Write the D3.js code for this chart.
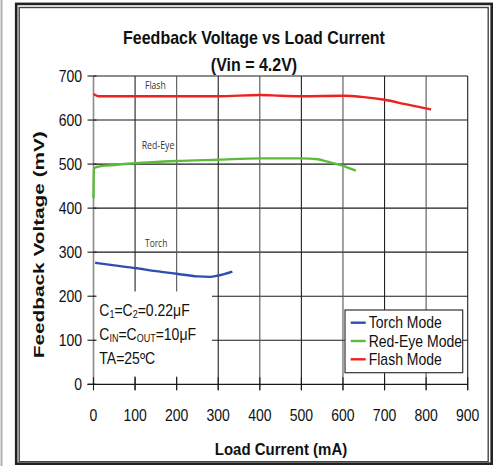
<!DOCTYPE html>
<html>
<head>
<meta charset="utf-8">
<script src="https://cdn.jsdelivr.net/npm/d3@7"></script>
<style>
  body { margin: 0; background: #fff; }
  text { font-family: "Liberation Sans", Arial, sans-serif; fill: #111; }
</style>
</head>
<body>
<div id="chart"></div>
<script>
// data
var xTicks = [0, 100, 200, 300, 400, 500, 600, 700, 800, 900];
var yTicks = [0, 100, 200, 300, 400, 500, 600, 700];

var seriesNames = ["Torch Mode", "Red-Eye Mode", "Flash Mode"];
var seriesColors = ["#2f4fae", "#5cbb3c", "#ee2020"];

var torchX = [4, 50, 100, 150, 200, 250, 280, 300, 334];
var torchY = [276, 270, 264, 257, 251, 245, 244, 247, 256];

var redEyeX = [0, 1, 10, 50, 100, 200, 300, 400, 500, 540, 560, 600, 631];
var redEyeY = [422, 490, 494, 498, 502, 507, 510, 513, 513, 511, 506, 496, 485];

var flashX = [0, 12, 100, 200, 300, 400, 450, 500, 600, 650, 700, 750, 812];
var flashY = [659, 654, 654, 654, 654, 657, 655, 654, 655, 652, 646, 636, 624];

function init(){
    var w = 497, h = 466;
    var sy = 1.15; // text in the picture is a bit tall

    var svg = d3.select("#chart").append("svg")
                .attr("width", w)
                .attr("height", h);

    // frame
    svg.append("line").attr("x1", 1.5).attr("x2", 1.5).attr("y1", 0).attr("y2", h)
       .attr("stroke", "#b0b0b0").attr("stroke-width", 2);
    svg.append("rect").attr("x", 16.2).attr("y", 3.9).attr("width", 475.5).attr("height", 459.8)
       .attr("fill", "none").attr("stroke", "#222").attr("stroke-width", 2.6);
    svg.append("rect").attr("x", 19.2).attr("y", 7.5).attr("width", 469).attr("height", 454.2)
       .attr("fill", "none").attr("stroke", "#444").attr("stroke-width", 1.4);

    var x = d3.scaleLinear().domain([0, 900]).range([93.5, 467.7]);
    var y = d3.scaleLinear().domain([0, 700]).range([384.3, 76]);

    // grid
    svg.append("g").selectAll("line.h")
       .data(yTicks.filter(function(d){ return d > 0; }))
       .enter().append("line")
       .attr("x1", x(0)).attr("x2", x(900))
       .attr("y1", function(d){ return y(d); }).attr("y2", function(d){ return y(d); })
       .attr("stroke", "#1a1a1a").attr("stroke-width", 1.1);
    svg.append("g").selectAll("line.v")
       .data(xTicks.filter(function(d){ return d > 0; }))
       .enter().append("line")
       .attr("x1", function(d){ return x(d); }).attr("x2", function(d){ return x(d); })
       .attr("y1", y(700)).attr("y2", y(0) + 6)
       .attr("stroke", function(d){ return d % 200 == 0 ? "#555" : "#222"; })
       .attr("stroke-width", 1.1);

    // white area behind the notes
    svg.append("rect").attr("x", 95).attr("y", 291.5).attr("width", 117).attr("height", 85)
       .attr("fill", "#fff");

    // axes
    svg.append("line").attr("x1", x(0)).attr("x2", x(0)).attr("y1", y(700)).attr("y2", y(0))
       .attr("stroke", "#8a8a8a").attr("stroke-width", 1.6);
    svg.append("g").selectAll("line")
       .data(yTicks).enter().append("line")
       .attr("x1", x(0) - 6).attr("x2", x(0) + 3)
       .attr("y1", function(d){ return y(d); }).attr("y2", function(d){ return y(d); })
       .attr("stroke", "#1a1a1a").attr("stroke-width", 1.1);
    svg.append("line").attr("x1", x(0) - 6).attr("x2", x(900)).attr("y1", y(0)).attr("y2", y(0))
       .attr("stroke", "#1a1a1a").attr("stroke-width", 1.3);
    svg.append("g").selectAll("line")
       .data(xTicks).enter().append("line")
       .attr("x1", function(d){ return x(d); }).attr("x2", function(d){ return x(d); })
       .attr("y1", y(0) - 7).attr("y2", y(0) + 6)
       .attr("stroke", "#1a1a1a").attr("stroke-width", 1.1);

    // tick labels
    svg.append("g").selectAll("text")
       .data(yTicks).enter().append("text")
       .attr("transform", function(d){ return "translate(82," + (y(d) + 5.5) + ") scale(1," + sy + ")"; })
       .attr("text-anchor", "end")
       .style("font-size", "14px")
       .text(function(d){ return d; });
    svg.append("g").selectAll("text")
       .data(xTicks).enter().append("text")
       .attr("transform", function(d){ return "translate(" + x(d) + ",420.5) scale(1," + sy + ")"; })
       .attr("text-anchor", "middle")
       .style("font-size", "14px")
       .text(function(d){ return d; });

    // titles
    svg.append("text")
       .attr("transform", "translate(254,43.7) scale(1," + sy + ")")
       .attr("text-anchor", "middle")
       .style("font-size", "16px").style("font-weight", "bold")
       .text("Feedback Voltage vs Load Current");
    svg.append("text")
       .attr("transform", "translate(254,70.5) scale(1," + sy + ")")
       .attr("text-anchor", "middle")
       .style("font-size", "16px").style("font-weight", "bold")
       .text("(Vin = 4.2V)");
    svg.append("text")
       .attr("transform", "translate(281,455) scale(1," + sy + ")")
       .attr("text-anchor", "middle")
       .style("font-size", "15px").style("font-weight", "bold")
       .text("Load Current (mA)");
    svg.append("text")
       .attr("transform", "translate(43.5,244.7) rotate(-90)")
       .attr("text-anchor", "middle")
       .attr("textLength", 227).attr("lengthAdjust", "spacingAndGlyphs")
       .style("font-size", "15.5px").style("font-weight", "bold")
       .text("Feedback Voltage (mV)");

    // curves
    var line = d3.line()
                 .x(function(d){ return x(d[0]); })
                 .y(function(d){ return y(d[1]); })
                 .curve(d3.curveMonotoneX);
    var series = [d3.zip(torchX, torchY), d3.zip(redEyeX, redEyeY), d3.zip(flashX, flashY)];
    svg.append("g").selectAll("path")
       .data(series).enter().append("path")
       .attr("d", line)
       .attr("fill", "none")
       .attr("stroke", function(d, i){ return seriesColors[i]; })
       .attr("stroke-width", 2.4);

    // small curve labels
    var small = [["Flash", 145, 89.3, 20.7], ["Red-Eye", 141.7, 148.7, 32.6], ["Torch", 145, 247.3, 22.3]];
    svg.append("g").selectAll("text")
       .data(small).enter().append("text")
       .attr("x", function(d){ return d[1]; }).attr("y", function(d){ return d[2]; })
       .attr("textLength", function(d){ return d[3]; }).attr("lengthAdjust", "spacingAndGlyphs")
       .style("font-family", "'Open Sans', sans-serif")
       .style("font-size", "10.5px").style("fill", "#333")
       .text(function(d){ return d[0]; });

    // notes
    var n1 = svg.append("text").attr("transform", "translate(99.3,316) scale(1," + sy + ")").style("font-size", "14px");
    n1.append("tspan").text("C");
    n1.append("tspan").attr("dy", 2).style("font-size", "9px").text("1");
    n1.append("tspan").attr("dy", -2).text("=C");
    n1.append("tspan").attr("dy", 2).style("font-size", "9px").text("2");
    n1.append("tspan").attr("dy", -2).text("=0.22\u03bcF");
    var n2 = svg.append("text").attr("transform", "translate(99.3,340) scale(1," + sy + ")").style("font-size", "14px");
    n2.append("tspan").text("C");
    n2.append("tspan").attr("dy", 2).style("font-size", "9px").text("IN");
    n2.append("tspan").attr("dy", -2).text("=C");
    n2.append("tspan").attr("dy", 2).style("font-size", "9px").text("OUT");
    n2.append("tspan").attr("dy", -2).text("=10\u03bcF");
    svg.append("text").attr("transform", "translate(99.3,364) scale(1," + sy + ")")
       .style("font-size", "14px").text("TA=25\u00baC");

    // legend
    var lg = svg.append("g");
    lg.append("rect").attr("x", 345).attr("y", 310).attr("width", 117.7).attr("height", 62.7)
      .attr("fill", "#fff").attr("stroke", "#333").attr("stroke-width", 1.2);
    var rows = lg.selectAll("g.row").data(seriesNames).enter().append("g")
      .attr("transform", function(d, i){ return "translate(0," + (322.7 + i * 18.3) + ")"; });
    rows.append("line").attr("x1", 350.7).attr("x2", 365.7).attr("y1", 0).attr("y2", 0)
      .attr("stroke", function(d, i){ return seriesColors[i]; }).attr("stroke-width", 2.4);
    rows.append("text")
      .attr("transform", "translate(368.7,5.5) scale(1," + sy + ")")
      .style("font-size", "14px")
      .text(function(d){ return d; });
}

window.onload = init;
</script>
</body>
</html>
